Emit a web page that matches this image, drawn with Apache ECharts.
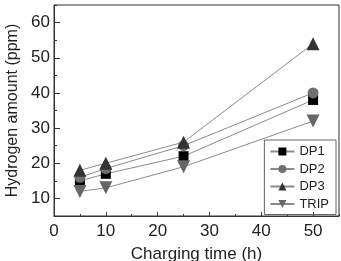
<!DOCTYPE html>
<html>
<head>
<meta charset="utf-8">
<script src="https://cdn.jsdelivr.net/npm/echarts@6/dist/echarts.min.js"></script>
<style>
	html, body { margin: 0; padding: 0; background: #fff; }
	#chart { width: 341px; height: 261px; }
</style>
</head>
<body>
<div id="chart"></div>
<script>
	// charging time (h)
	var times = [5, 10, 25, 50]
	var dp1 = [15, 17, 22, 38]
	var dp2 = [16, 18.5, 25, 40]
	var dp3 = [18, 20, 26, 54]
	var trip = [12, 13, 19, 32]
	// major tick positions
	var xMajor = [0, 10, 20, 30, 40, 50]
	var yMajor = [10, 20, 30, 40, 50, 60]

	function pairs(ys) {
		return times.map(function (t, i) { return [t, ys[i]] })
	}

	function makeSeries(name, ys, symbol, color, size, rotate) {
		return {
			name: name,
			type: 'line',
			data: pairs(ys),
			symbol: symbol,
			symbolSize: size,
			symbolRotate: rotate || 0,
			itemStyle: { color: color },
			lineStyle: { color: '#8a8a8a', width: 1 },
			animation: false
		}
	}

	var chart = echarts.init(document.getElementById('chart'))
	var font = 'Liberation Sans, Arial, sans-serif'
	var tickLine = { color: '#333', width: 1 }
	chart.setOption({
		grid: { left: 54, right: 2, top: 5, bottom: 45, outerBoundsMode: 'none', containLabel: false },
		legend: {
			orient: 'vertical',
			right: 5,
			top: 140,
			itemWidth: 24,
			itemHeight: 10,
			itemGap: 4.5,
			padding: [5, 7, 4, 5],
			borderColor: '#666',
			borderWidth: 1,
			textStyle: { fontFamily: font, fontSize: 13, lineHeight: 12, color: '#222' },
			data: ['DP1', 'DP2', 'DP3', 'TRIP']
		},
		xAxis: [{
			type: 'value',
			min: 0,
			max: 55,
			interval: 5,
			name: 'Charging time (h)',
			nameLocation: 'middle',
			nameGap: 30,
			nameTextStyle: { fontFamily: font, fontSize: 17, color: '#222' },
			axisLine: { show: true, onZero: false, lineStyle: tickLine },
			axisTick: { inside: true, length: 2, lineStyle: tickLine },
			axisLabel: {
				fontFamily: font, fontSize: 17, color: '#222', margin: 7,
				formatter: function (v) { return v % 10 === 0 ? v : '' }
			},
			splitLine: { show: false }
		}, {
			type: 'value',
			position: 'bottom',
			min: 0,
			max: 55,
			axisLine: { show: false, onZero: false },
			axisTick: { show: true, inside: true, length: 4, lineStyle: tickLine, customValues: xMajor },
			axisLabel: { show: false },
			splitLine: { show: false }
		}],
		yAxis: [{
			type: 'value',
			min: 5,
			max: 65,
			interval: 5,
			name: 'Hydrogen amount (ppm)',
			nameLocation: 'middle',
			nameGap: 32,
			nameTextStyle: { fontFamily: font, fontSize: 16, color: '#222' },
			axisLine: { show: true, onZero: false, lineStyle: tickLine },
			axisTick: { inside: true, length: 3, lineStyle: tickLine },
			axisLabel: {
				fontFamily: font, fontSize: 17, color: '#222', margin: 4,
				formatter: function (v) { return v % 10 === 0 ? v : '' }
			},
			splitLine: { show: false }
		}, {
			type: 'value',
			position: 'left',
			min: 5,
			max: 65,
			axisLine: { show: false, onZero: false },
			axisTick: { show: true, inside: true, length: 6, lineStyle: tickLine, customValues: yMajor },
			axisLabel: { show: false },
			splitLine: { show: false }
		}],
		graphic: [{
			type: 'rect',
			shape: { x: 54, y: 5, width: 285, height: 211 },
			style: { fill: 'none', stroke: '#333', lineWidth: 1 },
			silent: true,
			z: -1
		}],
		series: [
			makeSeries('DP1', dp1, 'rect', '#000000', 10),
			makeSeries('DP2', dp2, 'circle', '#707070', 11),
			makeSeries('DP3', dp3, 'triangle', '#333333', 13),
			makeSeries('TRIP', trip, 'triangle', '#666666', 13, 180)
		]
	})
</script>
</body>
</html>
